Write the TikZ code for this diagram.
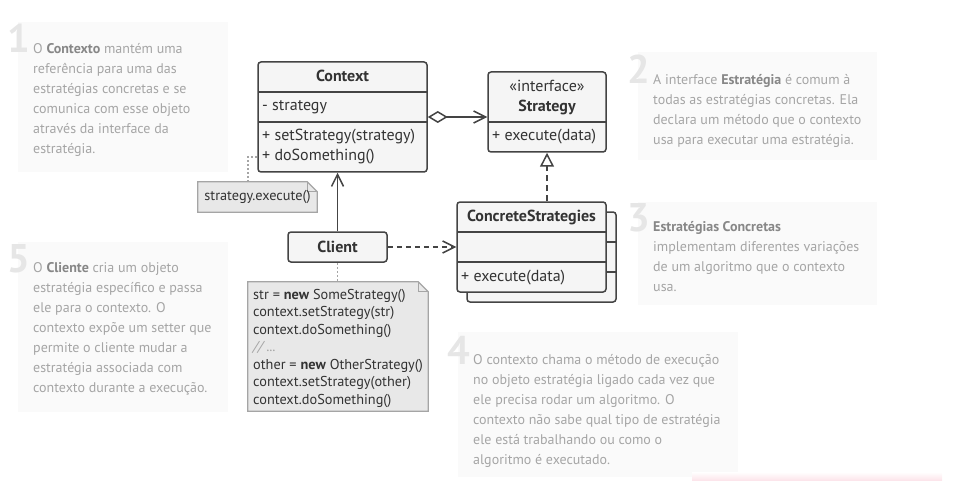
\documentclass[tikz,border=0pt]{standalone}
\usepackage{fontspec}
\setmainfont{PT Sans}
\usetikzlibrary{arrows.meta, calc, backgrounds}
\definecolor{umlline}{RGB}{68,68,68}
\definecolor{umlfill}{RGB}{245,245,245}
\definecolor{umltext}{RGB}{51,51,51}
\definecolor{notefill}{RGB}{232,232,232}
\definecolor{noteline}{RGB}{165,165,165}
\definecolor{cardfill}{RGB}{250,250,250}
\definecolor{cardgray}{RGB}{165,165,165}
\definecolor{cardbold}{RGB}{135,135,135}
\definecolor{cardnumber}{RGB}{230,230,230}
\definecolor{lightpink}{RGB}{252,226,232}

\begin{document}
\begin{tikzpicture}[x=1pt, y=-1pt,
    classbox/.style={draw=umlline, fill=umlfill, line width=1.5pt, rounded corners=3pt, inner sep=0},
    divider/.style={draw=umlline, line width=1.5pt},
    titletext/.style={font=\bfseries\fontsize{16}{19}\selectfont, text=umltext, inner sep=0, text height=11.5pt, text depth=3.5pt},
    membertext/.style={font=\fontsize{16}{19}\selectfont, text=umltext, inner sep=0, anchor=west, text height=11.5pt, text depth=3.5pt},
    notebox/.style={draw=noteline, fill=notefill, line width=1.2pt},
    notetext/.style={font=\fontsize{14.3}{17.5}\selectfont, text=umltext, inner sep=0},
    card/.style={fill=cardfill, draw=none, inner sep=0},
    cardtext/.style={font=\fontsize{14}{20}\selectfont, text=cardgray, align=left, inner sep=0, anchor=north west},
    cardnum/.style={font=\bfseries\fontsize{40}{40}\selectfont, text=cardnumber, inner sep=0, anchor=base east},
    link/.style={draw=umlline, line width=1.5pt},
    dotlink/.style={draw=noteline, line width=1.5pt, dash pattern=on 2pt off 2pt},
    openhead/.style={-{Straight Barb[length=12pt, width=12pt]}}]
    \useasboundingbox (0,0) rectangle (955,481);

    % Annotation cards
    \node[card, minimum width=210pt, minimum height=150pt] (card1) at (123,97) {};
    \node[cardnum] (num1) at (30,53) {1};
    \node[cardtext] (text1) at (33,39) {\strut O {\bfseries\color{cardbold}Contexto} mantém uma\\
        referência para uma das\\ estratégias concretas e se\\ comunica com esse objeto\\
        através da interface da\\ estratégia.};

    \node[card, minimum width=239pt, minimum height=108pt] (card2) at (757.5,106) {};
    \node[cardnum] (num2) at (650,84) {2};
    \node[cardtext] (text2) at (653,70) {\strut A interface {\bfseries\color{cardbold}Estratégia} é comum à\\
        todas as estratégias concretas. Ela\\ declara um método que o contexto\\
        usa para executar uma estratégia.};

    \node[card, minimum width=239pt, minimum height=103pt] (card3) at (757.5,253.5) {};
    \node[cardnum] (num3) at (650,231) {3};
    \node[cardtext] (text3) at (653,217) {\strut{\bfseries\color{cardbold}Estratégias Concretas}\\
        implementam diferentes variações\\ de um algoritmo que o contexto\\ usa.};

    \node[card, minimum width=280pt, minimum height=145pt] (card4) at (598,404.5) {};
    \node[cardnum] (num4) at (470,364) {4};
    \node[cardtext] (text4) at (473,350) {\strut O contexto chama o método de execução\\
        no objeto estratégia ligado cada vez que\\ ele precisa rodar um algoritmo. O\\
        contexto não sabe qual tipo de estratégia\\ ele está trabalhando ou como o\\
        algoritmo é executado.};

    \node[card, minimum width=210pt, minimum height=170pt] (card5) at (123,327) {};
    \node[cardnum] (num5) at (30,272) {5};
    \node[cardtext] (text5) at (33,258) {\strut O {\bfseries\color{cardbold}Cliente} cria um objeto\\
        estratégia específico e passa\\ ele para o contexto. O\\ contexto expõe um setter que\\
        permite o cliente mudar a\\ estratégia associada com\\ contexto durante a execução.};

    \shade[top color=white, bottom color=lightpink] (692,472) rectangle (942,481);

    % Context class
    \node[classbox, minimum width=169pt, minimum height=110pt] (context) at (342.5,117) {};
    \draw[divider] (258,92) -- (427,92);
    \draw[divider] (258,122) -- (427,122);
    \node[titletext] (contexttitle) at (342.5,78) {Context};
    \node[membertext] (contextfield) at (262,107) {- strategy};
    \node[membertext] (contextset) at (262,137) {+ setStrategy(strategy)};
    \node[membertext] (contextdo) at (262,157) {+ doSomething()};

    % Strategy interface
    \node[classbox, minimum width=118pt, minimum height=80pt] (strategy) at (547,112) {};
    \draw[divider] (488,122) -- (606,122);
    \node[membertext, anchor=center] (stereotype) at (547,88) {«interface»};
    \node[titletext] (strategytitle) at (547,108) {Strategy};
    \node[membertext] (strategyexec) at (492,137) {+ execute(data)};

    % Concrete strategies (stacked)
    \node[classbox, minimum width=149pt, minimum height=90pt] (concreteback) at (541.5,257) {};
    \draw[divider] (467,242) -- (616,242);
    \draw[divider] (467,272) -- (616,272);
    \node[classbox, minimum width=149pt, minimum height=90pt] (concrete) at (531.5,247) {};
    \draw[divider] (457,232) -- (606,232);
    \draw[divider] (457,262) -- (606,262);
    \node[titletext] (concretetitle) at (531.5,218) {ConcreteStrategies};
    \node[membertext] (concreteexec) at (461,277) {+ execute(data)};

    % Client
    \node[classbox, minimum width=99pt, minimum height=30pt] (client) at (337.5,247) {};
    \node[titletext] (clienttitle) at (337.5,248) {Client};

    % Notes
    \node[notetext, minimum width=119pt, minimum height=30pt] (execnote) at (257.5,197) {strategy.execute()};
    \node[minimum width=180pt, minimum height=129pt, inner sep=0] (codenote) at (338,346.5) {};
    \node[notetext, align=left, anchor=north west] (code) at (253,286.7)
        {\strut str = \textbf{new} SomeStrategy()\\ context.setStrategy(str)\\ context.doSomething()\\
        {\itshape\color{cardgray}// ...}\\ other = \textbf{new} OtherStrategy()\\
        context.setStrategy(other)\\ context.doSomething()};
    \begin{scope}[on background layer]
        \draw[notebox] (execnote.south west) -- (execnote.north west) -- ($(execnote.north east)+(-10,0)$)
            -- ($(execnote.north east)+(0,10)$) -- (execnote.south east) -- cycle;
        \draw[notebox, fill=none] ($(execnote.north east)+(-10,0)$) |- ($(execnote.north east)+(0,10)$);
        \draw[notebox] (codenote.south west) -- (codenote.north west) -- ($(codenote.north east)+(-10,0)$)
            -- ($(codenote.north east)+(0,10)$) -- (codenote.south east) -- cycle;
        \draw[notebox, fill=none] ($(codenote.north east)+(-10,0)$) |- ($(codenote.north east)+(0,10)$);
    \end{scope}

    % Connectors
    \coordinate (ctxhook) at (258,157);
    \draw[dotlink] ($(execnote.north west)+(50,0)$) |- (ctxhook);
    \draw[dotlink] (client.south) -- (client.south |- codenote.north);
    \draw[link, {Diamond[length=20pt, width=12pt, fill=white]}-{Straight Barb[length=12pt, width=12pt]}]
        (context.east) -- (context.east -| strategy.west);
    \draw[link, dash pattern=on 6pt off 4pt, -{Triangle[length=14pt, width=14pt, fill=white]}]
        (strategy.south |- concrete.north) -- (strategy.south);
    \draw[link, openhead] (client.north) -- (client.north |- context.south);
    \draw[link, openhead, dash pattern=on 5pt off 4pt] (client.east) -- (client.east -| concrete.west);
\end{tikzpicture}
\end{document}
